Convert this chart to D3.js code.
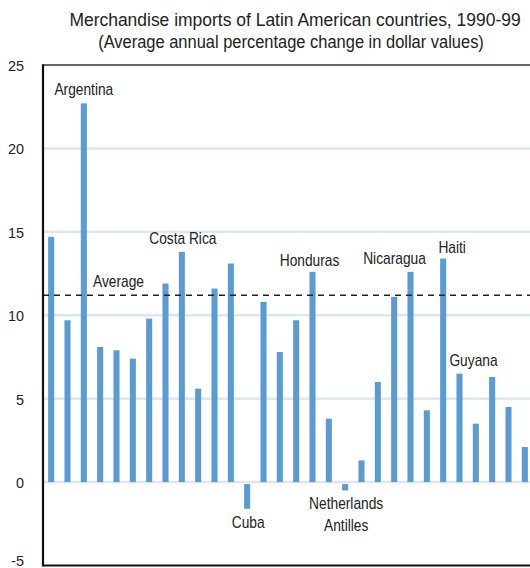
<!DOCTYPE html>
<html>
<head>
<meta charset="utf-8">
<script src="https://cdn.jsdelivr.net/npm/d3@7"></script>
<style>
  html, body { margin: 0; padding: 0; background: #fff; }
  svg { display: block; }
  text { font-family: "Liberation Sans", Arial, sans-serif; fill: #222; }
</style>
</head>
<body>
<svg id="chart" width="530" height="568"></svg>
<script>
// ---- data ----
const title = "Merchandise imports of Latin American countries, 1990-99";
const subtitle = "(Average annual percentage change in dollar values)";
const barLabels = ["", "", "Argentina", "", "", "", "", "", "Costa Rica", "", "", "", "Cuba", "", "", "",
  "Honduras", "", "Netherlands Antilles", "", "", "", "Nicaragua", "", "Haiti", "Guyana", "", "", "", ""];
const values = [14.7, 9.7, 22.7, 8.1, 7.9, 7.4, 9.8, 11.9, 13.8, 5.6, 11.6, 13.1, -1.6, 10.8, 7.8, 9.7,
  12.6, 3.8, -0.5, 1.3, 6.0, 11.1, 12.6, 4.3, 13.4, 6.5, 3.5, 6.3, 4.5, 2.1];
const average = 11.2;
const averageLabel = "Average";
const yTicks = [-5, 0, 5, 10, 15, 20, 25];

// ---- layout ----
const svg = d3.select("#chart");
const mLeft = 43, mTop = 65, mBottom = 565.5, mRight = 533;
const idx = d3.range(values.length);
const x = d3.scaleBand().domain(idx).range([mLeft, mRight]).paddingInner(0.63).paddingOuter(0.315);
const y = d3.scaleLinear().domain([-5, 25]).range([mBottom, mTop]);

function txt(parent, tx, ty, s, size, anchor, sx) {
  return parent.append("text")
    .attr("transform", `translate(${tx},${ty}) scale(${sx},1)`)
    .attr("text-anchor", anchor).style("font-size", size + "px").text(s);
}

// title
txt(svg, 295, 26, title, 18.3, "middle", 0.955);
txt(svg, 291, 48, subtitle, 18.3, "middle", 0.9);

// gridlines
svg.append("g").selectAll("line").data(yTicks.filter(t => t > -5 && t < 25)).join("line")
  .attr("x1", mLeft).attr("x2", 530).attr("y1", d => y(d)).attr("y2", d => y(d))
  .attr("stroke", "#dde7f2").attr("stroke-width", 2.5);

// y axis labels
const sxTick = 0.93;
const yAxis = d3.axisLeft(y).tickValues(yTicks).tickSize(0).tickPadding(19).tickFormat(d => String(d));
const ag = svg.append("g").attr("transform", `translate(${mLeft},0)`).call(yAxis);
ag.select(".domain").remove();
ag.selectAll("text").style("font-size", "15.5px").style("font-family", null).attr("fill", "#222")
  .attr("x", -19 / sxTick).attr("transform", `scale(${sxTick},1)`)
  .attr("dy", d => d === -5 ? "0" : "0.36em");

// bars
svg.append("g").selectAll("rect").data(values).join("rect")
  .attr("x", (d, i) => x(i)).attr("width", x.bandwidth())
  .attr("y", d => d >= 0 ? y(d) : y(0) + 2)
  .attr("height", d => d >= 0 ? y(0) - y(d) : y(d) - y(0) - 2)
  .attr("fill", "#5b9bd5");

// average line
svg.append("line").attr("x1", mLeft).attr("x2", 530).attr("y1", y(average)).attr("y2", y(average))
  .attr("stroke", "#222").attr("stroke-width", 1.3).attr("stroke-dasharray", "6,5");
txt(svg, 93, y(average) - 8, averageLabel, 16, "start", 0.86);

// frame
svg.append("line").attr("x1", mLeft).attr("x2", 530).attr("y1", mTop).attr("y2", mTop)
  .attr("stroke", "#333").attr("stroke-width", 1.6);
svg.append("line").attr("x1", mLeft).attr("x2", 530).attr("y1", mBottom).attr("y2", mBottom)
  .attr("stroke", "#111").attr("stroke-width", 2.2);
svg.append("line").attr("x1", mLeft).attr("x2", mLeft).attr("y1", mTop - 0.8).attr("y2", mBottom + 1.1)
  .attr("stroke", "#111").attr("stroke-width", 2.2);

// bar annotations (offsets relative to bar)
const annot = { "Argentina": [0, -8], "Costa Rica": [1, -8], "Cuba": [1, 0], "Honduras": [-3, -6],
  "Netherlands Antilles": [1, 0], "Nicaragua": [-16, -8], "Haiti": [9, -6], "Guyana": [14, -8] };
barLabels.forEach((lab, i) => {
  if (!lab) return;
  const v = values[i];
  const [dx, dy] = annot[lab];
  const cx = x(i) + x.bandwidth() / 2 + dx;
  if (v >= 0) {
    txt(svg, cx, y(v) + dy, lab, 16, "middle", 0.86);
  } else {
    const words = lab === "Netherlands Antilles" ? ["Netherlands", "Antilles"] : [lab];
    const base = y(v) + 19;
    words.forEach((w, k) => txt(svg, cx, base + k * 22, w, 16, "middle", 0.86));
  }
});
</script>
</body>
</html>
